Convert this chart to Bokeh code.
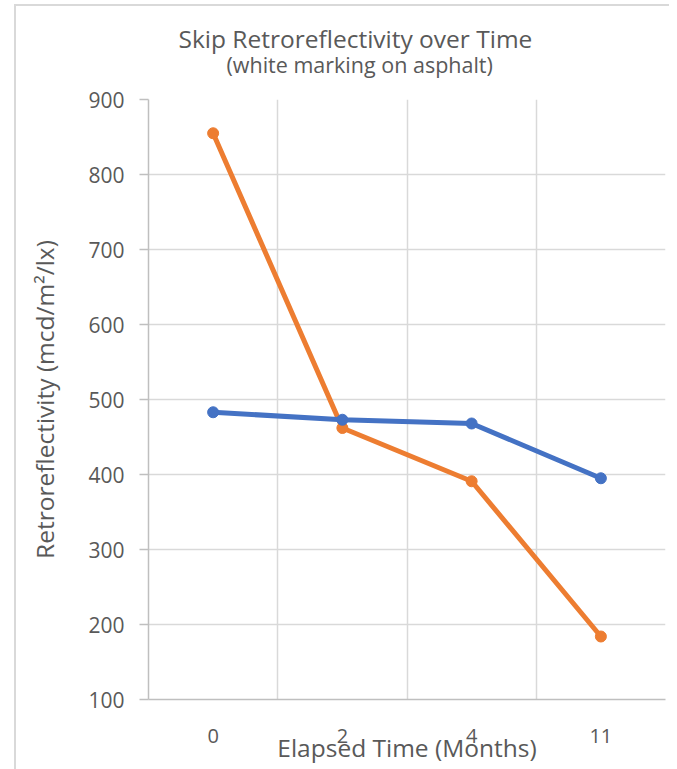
from bokeh.plotting import figure
from bokeh.models import FactorRange, Range1d, FixedTicker, ColumnDataSource, Title, InlineStyleSheet
from bokeh.embed import file_html
from bokeh.resources import INLINE

months = ["0", "2", "4", "11"]
series_blue = [483, 473, 468, 395]
series_orange = [855, 462, 391, 184]
y_ticks = [100, 200, 300, 400, 500, 600, 700, 800, 900]
title_lines = ["Skip Retroreflectivity over Time", "(white marking on asphalt)"]

FONT = "Open Sans"
TXT = "#595959"

p = figure(width=669, height=769, title=None,
           x_range=FactorRange(factors=months),
           y_range=Range1d(y_ticks[0], y_ticks[-1]),
           output_backend="svg", toolbar_location=None,
           min_border_left=148, min_border_right=4,
           min_border_top=99, min_border_bottom=70)

# light chart-area border (left and top edges)
p.stylesheets = [InlineStyleSheet(css=(
    ":host::after { content: ''; position: absolute; left: 14px; top: 4px; right: 0; bottom: 0;"
    " border-left: 2px solid #d9d9d9; border-top: 2px solid #d9d9d9; pointer-events: none; }"
))]

# second line first (closest to the frame), then first line
t2 = Title(text=title_lines[1], align="left", offset=78, text_font=FONT,
           text_font_size="21.5px", text_font_style="normal", text_color=TXT, standoff=41)
t1 = Title(text=title_lines[0], align="left", offset=30, text_font=FONT,
           text_font_size="24.5px", text_font_style="normal", text_color=TXT, standoff=-55)
p.add_layout(t2, "above")
p.add_layout(t1, "above")

p.outline_line_color = None

# grids
p.xgrid.ticker = FixedTicker(ticks=list(range(1, len(months) + 1)))
p.xgrid.grid_line_color = "#d9d9d9"
p.xgrid.grid_line_width = 1.5
p.ygrid.ticker = FixedTicker(ticks=y_ticks)
p.ygrid.grid_line_color = "#d9d9d9"
p.ygrid.grid_line_width = 1.5

# y axis
p.yaxis.ticker = FixedTicker(ticks=y_ticks)
p.yaxis.axis_label = "Retroreflectivity (mcd/m²/lx)"
p.yaxis.axis_label_text_font = FONT
p.yaxis.axis_label_text_font_size = "24.5px"
p.yaxis.axis_label_text_font_style = "normal"
p.yaxis.axis_label_text_color = TXT
p.yaxis.axis_label_standoff = 24
p.yaxis.major_label_text_font = FONT
p.yaxis.major_label_text_font_size = "21px"
p.yaxis.major_label_text_color = TXT
p.yaxis.major_label_standoff = 15
p.yaxis.axis_line_color = "#bfbfbf"
p.yaxis.axis_line_width = 1.5
p.yaxis.major_tick_line_color = "#bfbfbf"
p.yaxis.major_tick_line_width = 1.5
p.yaxis.major_tick_out = 9
p.yaxis.major_tick_in = 0
p.yaxis.minor_tick_line_color = None

# x axis
p.xaxis.axis_label = "Elapsed Time (Months)"
p.xaxis.axis_label_text_font = FONT
p.xaxis.axis_label_text_font_size = "24.5px"
p.xaxis.axis_label_text_font_style = "normal"
p.xaxis.axis_label_text_color = TXT
p.xaxis.axis_label_standoff = -15
p.xaxis.major_label_text_font = FONT
p.xaxis.major_label_text_font_size = "20px"
p.xaxis.major_label_text_color = TXT
p.xaxis.major_label_standoff = 29
p.xaxis.axis_line_color = "#bfbfbf"
p.xaxis.axis_line_width = 1.5
p.xaxis.major_tick_line_color = None
p.xaxis.major_tick_out = 0
p.xaxis.minor_tick_line_color = None

src = ColumnDataSource(dict(x=months, blue=series_blue, orange=series_orange))

p.line("x", "orange", source=src, line_color="#ED7D31", line_width=5)
p.scatter("x", "orange", source=src, size=11, fill_color="#ED7D31", line_color="#ED7D31")
p.line("x", "blue", source=src, line_color="#4472C4", line_width=5)
p.scatter("x", "blue", source=src, size=11, fill_color="#4472C4", line_color="#4472C4")

open("out.html", "w").write(file_html(p, INLINE))
